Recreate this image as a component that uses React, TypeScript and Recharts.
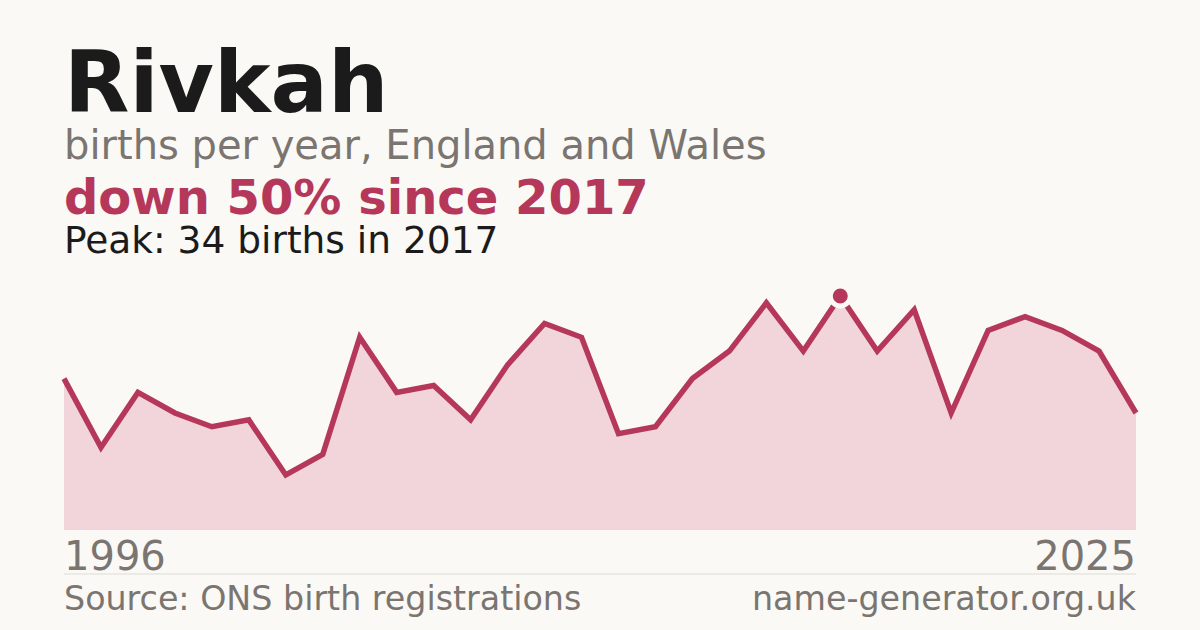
import React from 'react';
import { AreaChart, Area, XAxis, YAxis, ReferenceDot } from 'recharts';

const years = [
  1996, 1997, 1998, 1999, 2000, 2001, 2002, 2003, 2004, 2005,
  2006, 2007, 2008, 2009, 2010, 2011, 2012, 2013, 2014, 2015,
  2016, 2017, 2018, 2019, 2020, 2021, 2022, 2023, 2024, 2025,
];
const births = [
  22, 12, 20, 17, 15, 16, 8, 11, 28, 20,
  21, 16, 24, 30, 28, 14, 15, 22, 26, 33,
  26, 34, 26, 32, 17, 29, 31, 29, 26, 17,
];

const peakYear = 2017;
const peakValue = 34;

const RED = '#b5385a';
const GREY = '#7a7570';
const FONT = '"DejaVu Sans", sans-serif';

const data = years.map((year, i) => ({ year, births: births[i] }));

const App: React.FC = () => {
  return (
    <div
      style={{
        position: 'absolute',
        top: 0,
        left: 0,
        width: 1200,
        height: 630,
        background: '#faf9f5',
        overflow: 'hidden',
      }}
    >
      <svg width={1200} height={630} style={{ position: 'absolute', top: 0, left: 0 }}>
        <g fontFamily={FONT}>
          <text x={64} y={112} fontSize={85} fontWeight="bold" fill="#1b1b1b">
            Rivkah
          </text>
          <text x={64} y={159} fontSize={40} fill={GREY}>
            births per year, England and Wales
          </text>
          <text x={64} y={214} fontSize={48} fontWeight="bold" fill={RED}>
            down 50% since 2017
          </text>
          <text x={64} y={253} fontSize={37.5} fill="#1b1b1b">
            Peak: 34 births in 2017
          </text>
          <text x={64} y={570} fontSize={40} fill={GREY}>
            1996
          </text>
          <text x={1136} y={570} fontSize={40} fill={GREY} textAnchor="end">
            2025
          </text>
          <line x1={64} x2={1136} y1={574} y2={574} stroke="#dedbd5" strokeWidth={1} />
          <text x={64} y={610} fontSize={33.3} fill={GREY}>
            Source: ONS birth registrations
          </text>
          <text x={1136} y={610} fontSize={33.3} fill={GREY} textAnchor="end">
            name-generator.org.uk
          </text>
        </g>
      </svg>
      <div style={{ position: 'absolute', top: 0, left: 0 }}>
        <AreaChart
          width={1200}
          height={630}
          data={data}
          margin={{ top: 296, right: 64, bottom: 100, left: 64 }}
        >
          <XAxis dataKey="year" type="number" domain={[1996, 2025]} hide />
          <YAxis domain={[0, 34]} hide />
          <Area
            type="linear"
            dataKey="births"
            stroke={RED}
            strokeWidth={5.5}
            fill="#f2d5da"
            fillOpacity={1}
            dot={false}
            activeDot={false}
            isAnimationActive={false}
          />
          <ReferenceDot
            x={peakYear}
            y={peakValue}
            r={10}
            fill={RED}
            stroke="#faf9f5"
            strokeWidth={5}
          />
        </AreaChart>
      </div>
    </div>
  );
};

export default App;
